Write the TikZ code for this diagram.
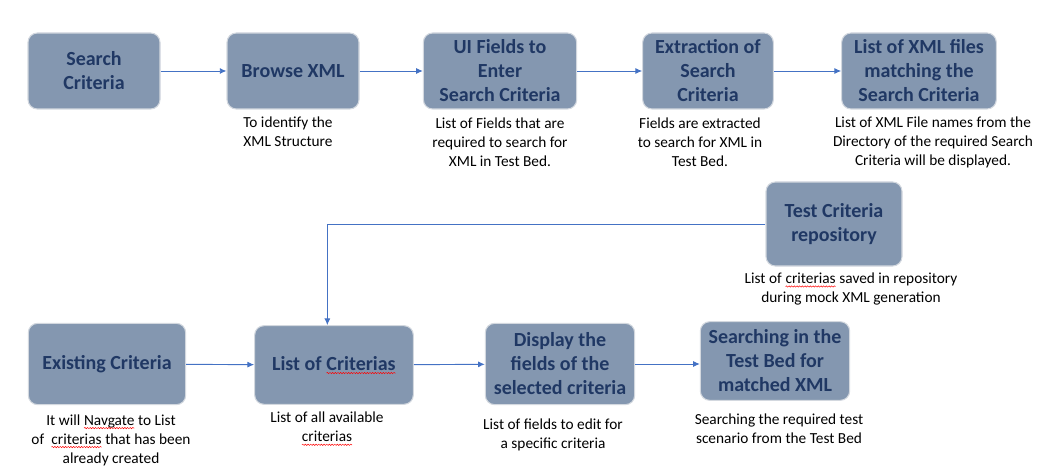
\documentclass[tikz,border=0pt]{standalone}
\usepackage{fontspec}
\setmainfont{Carlito}
\usetikzlibrary{arrows.meta,decorations.pathmorphing}
\definecolor{boxfill}{HTML}{8497B0}
\definecolor{boxtext}{HTML}{203864}
\definecolor{boxline}{HTML}{D3D8DF}
\definecolor{flow}{HTML}{4472C4}
\newcommand{\spellerr}[1]{\tikz[baseline=(w.base)]{\node[inner sep=0pt, outer sep=0pt, minimum width=0pt, minimum height=0pt,
		draw=none, fill=none, rounded corners=0pt] (w) {#1};
	\draw[draw=red, fill=none, rounded corners=0pt, line width=0.35pt, decorate, decoration={snake, amplitude=0.5pt, segment length=2pt}]
		([yshift=-2.2pt]w.base west) -- ([yshift=-2.2pt]w.base east);}}
\tikzset{
	procbox/.style={draw=boxline, line width=0.8pt, fill=boxfill, rounded corners=7pt,
		text=boxtext, font=\fontsize{15}{18}\selectfont\bfseries, align=center, inner sep=2pt},
	note/.style={font=\fontsize{11.5}{14.2}\selectfont, align=center, inner sep=0pt},
	flowarrow/.style={draw=flow, line width=0.7pt, -{Latex[length=5pt,width=4.5pt]}}
}

\begin{document}
\begin{tikzpicture}[x=0.75pt, y=-0.75pt]
			%%%%% START %%%%%
			\useasboundingbox (0,0) rectangle (1052,470);
			
			\node[procbox, minimum width=99pt, minimum height=57pt] (search) at (94, 71) {Search\\Criteria};
			\node[procbox, minimum width=99pt, minimum height=57pt] (browse) at (293, 71) {Browse XML};
			\node[procbox, minimum width=115pt, minimum height=57pt] (uifields) at (500, 71) {UI Fields to\\Enter\\Search Criteria};
			\node[procbox, minimum width=98pt, minimum height=57pt] (extract) at (708, 71) {Extraction of\\Search\\Criteria};
			\node[procbox, minimum width=116pt, minimum height=57pt] (xmllist) at (919, 71) {List of XML files\\matching the\\Search Criteria};
			
			\node[note] (browsenote) at (288, 132) {To identify the\\XML Structure};
			\node[note] (uinote) at (500, 142) {List of Fields that are\\required to search for\\XML in Test Bed.};
			\node[note] (extractnote) at (700, 142) {Fields are extracted\\to search for XML in\\Test Bed.};
			\node[note] (xmlnote) at (933, 142) {List of XML File names from the\\Directory of the required Search\\Criteria will be displayed.};
			
			\draw[flowarrow] (search) -- (browse);
			\draw[flowarrow] (browse) -- (uifields);
			\draw[flowarrow] (uifields) -- (extract);
			\draw[flowarrow] (extract) -- (xmllist);
			
			\node[procbox, minimum width=102pt, minimum height=63pt] (repo) at (834, 224) {Test Criteria\\repository};
			\node[note] (reponote) at (851, 289) {List of \spellerr{criterias} saved in repository\\during mock XML generation};
			
			\node[procbox, minimum width=118pt, minimum height=61pt] (existing) at (107, 364) {Existing Criteria};
			\node[procbox, minimum width=119pt, minimum height=59pt] (critlist) at (334, 365) {List of \spellerr{Criterias}};
			\node[procbox, minimum width=112pt, minimum height=61pt] (display) at (560, 364) {Display the\\fields of the\\selected criteria};
			\node[procbox, minimum width=112pt, minimum height=59pt] (searching) at (775, 361) {Searching in the\\Test Bed for\\matched XML};
			
			\node[note] (existingnote) at (111, 440) {It will \spellerr{Navgate} to List\\of~ \spellerr{criterias} that has been\\already created};
			\node[note] (critnote) at (327, 429) {List of all available\\\spellerr{criterias}};
			\node[note] (displaynote) at (553, 435) {List of fields to edit for\\a specific criteria};
			\node[note] (searchingnote) at (779, 429) {Searching the required test\\scenario from the Test Bed};
			
			\draw[flowarrow] (existing) -- (critlist);
			\draw[flowarrow] (critlist) -- (display);
			\draw[flowarrow] (display.east) -- (display.east -| searching.west);
			\draw[flowarrow] (repo.west) -| ([xshift=-5pt]critlist.north);
			%%%%% END %%%%%
\end{tikzpicture}
\end{document}
